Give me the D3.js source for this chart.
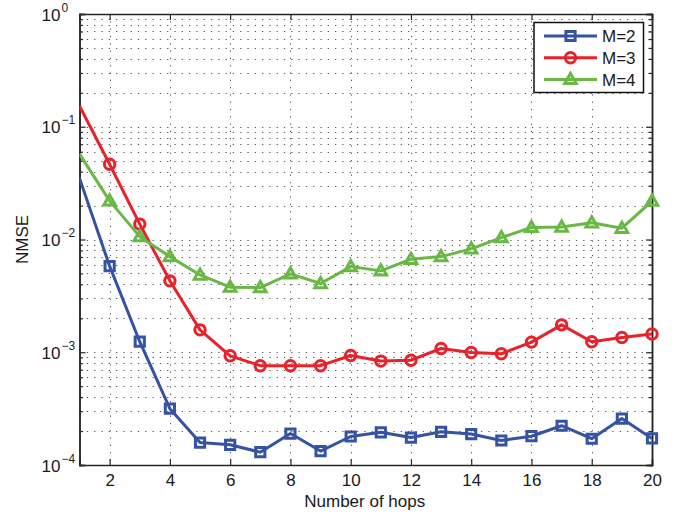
<!DOCTYPE html>
<html>
<head>
<meta charset="utf-8">
<script src="https://cdn.jsdelivr.net/npm/d3@7"></script>
<style>
  html, body { margin: 0; padding: 0; background: #fff; }
  svg { display: block; font-family: "Liberation Sans", Arial, sans-serif; }
</style>
</head>
<body>
<svg id="chart" width="688" height="515"></svg>
<script>
// Number of hops on the x axis
const hops = [1, 2, 3, 4, 5, 6, 7, 8, 9, 10, 11, 12, 13, 14, 15, 16, 17, 18, 19, 20];

// NMSE for each number of antennas M
const nmseM2 = [0.035, 0.0058, 0.00124, 3.16e-4, 1.58e-4, 1.51e-4, 1.30e-4, 1.90e-4, 1.33e-4, 1.79e-4,
                1.95e-4, 1.75e-4, 1.97e-4, 1.88e-4, 1.65e-4, 1.80e-4, 2.23e-4, 1.71e-4, 2.58e-4, 1.72e-4];
const nmseM3 = [0.153, 0.0465, 0.0137, 0.0043, 0.00158, 9.3e-4, 7.6e-4, 7.6e-4, 7.6e-4, 9.35e-4,
                8.35e-4, 8.5e-4, 1.08e-3, 9.95e-4, 9.7e-4, 1.23e-3, 1.75e-3, 1.24e-3, 1.35e-3, 1.45e-3];
const nmseM4 = [0.0574, 0.022, 0.0106, 0.00705, 0.00485, 0.00378, 0.00375, 0.00496, 0.00407, 0.00575,
                0.00527, 0.00669, 0.00705, 0.00826, 0.0104, 0.0128, 0.0129, 0.0141, 0.0126, 0.0219];

const seriesNames = ["M=2", "M=3", "M=4"];
const xTicks = [2, 4, 6, 8, 10, 12, 14, 16, 18, 20];
const yDecades = [-4, -3, -2, -1, 0];
const xLabel = "Number of hops";
const yLabel = "NMSE";
const firstMarkedHop = 2;

(function () {
const series = [
  { name: seriesNames[0], values: nmseM2, color: "#3552a3", marker: "square" },
  { name: seriesNames[1], values: nmseM3, color: "#e8222b", marker: "circle" },
  { name: seriesNames[2], values: nmseM4, color: "#69b845", marker: "triangle" }
];

const svg = d3.select("#chart");
const pLeft = 79.5, pRight = 652, pTop = 14, pBottom = 465;

const x = d3.scaleLinear().domain([1, 20]).range([pLeft, pRight]);
const y = d3.scaleLog().domain([1e-4, 1]).range([pBottom, pTop]);

const axisColor = "#262626";
const gridColor = "#5a5a5a";

// minor/major log positions
const yMinor = [];
for (let e = -4; e < 0; e++) {
  for (let m = 2; m <= 9; m++) yMinor.push(m * Math.pow(10, e));
}
const yMajor = yDecades.map(e => Math.pow(10, e));

// grid
const grid = svg.append("g").attr("stroke", gridColor).attr("stroke-width", 1)
  .attr("stroke-dasharray", "1.3,6").attr("fill", "none");
grid.selectAll("line.hy").data(yMinor.concat(yMajor.slice(1, -1))).enter().append("line")
  .attr("x1", pLeft).attr("x2", pRight)
  .attr("y1", d => Math.round(y(d)) + 0.5).attr("y2", d => Math.round(y(d)) + 0.5);
grid.selectAll("line.vx").data(xTicks.filter(t => t < 20)).enter().append("line")
  .attr("y1", pTop).attr("y2", pBottom)
  .attr("x1", d => Math.round(x(d)) + 0.5).attr("x2", d => Math.round(x(d)) + 0.5);

// axes with inward ticks on all four sides
const axB = svg.append("g").attr("transform", `translate(0,${pBottom})`)
  .call(d3.axisBottom(x).tickValues(xTicks).tickSize(-6).tickPadding(9).tickFormat(d3.format("d")));
const axT = svg.append("g").attr("transform", `translate(0,${pTop})`)
  .call(d3.axisTop(x).tickValues(xTicks).tickSize(-6).tickFormat(""));
const axL = svg.append("g").attr("transform", `translate(${pLeft},0)`)
  .call(d3.axisLeft(y).tickValues(yMajor).tickSize(-6).tickFormat(""));
const axLm = svg.append("g").attr("transform", `translate(${pLeft},0)`)
  .call(d3.axisLeft(y).tickValues(yMinor).tickSize(-3.5).tickFormat(""));
const axR = svg.append("g").attr("transform", `translate(${pRight},0)`)
  .call(d3.axisRight(y).tickValues(yMajor).tickSize(-6).tickFormat(""));
const axRm = svg.append("g").attr("transform", `translate(${pRight},0)`)
  .call(d3.axisRight(y).tickValues(yMinor).tickSize(-3.5).tickFormat(""));

[axB, axT, axL, axLm, axR, axRm].forEach(g => {
  g.selectAll(".domain").attr("stroke", axisColor).attr("stroke-width", 1.5);
  g.selectAll(".tick line").attr("stroke", axisColor).attr("stroke-width", 1.2);
});
axB.selectAll(".tick text").attr("fill", "#1a1a1a").style("font-size", "17px")
  .style("font-family", "'Liberation Sans', Arial, sans-serif");

// y tick labels as 10^e
const yLab = svg.append("g").attr("fill", "#1a1a1a");
yDecades.forEach(e => {
  const t = yLab.append("text")
    .attr("x", 41.5)
    .attr("y", y(Math.pow(10, e)) + 6.5)
    .style("font-size", "17px");
  t.append("tspan").text("10");
  t.append("tspan").attr("dy", -9).attr("dx", 1).style("font-size", "12px")
    .text(e === 0 ? "0" : "\u2212" + Math.abs(e));
});

// axis titles
svg.append("text").attr("x", (pLeft + pRight) / 2 - 1).attr("y", 506.5)
  .attr("text-anchor", "middle").attr("fill", "#1a1a1a").style("font-size", "17px").text(xLabel);
svg.append("text").attr("transform", `translate(28,${(pTop + pBottom) / 2}) rotate(-90)`)
  .attr("text-anchor", "middle").attr("fill", "#1a1a1a").style("font-size", "17px").text(yLabel);

// marker shapes
function markerPath(kind) {
  if (kind === "square") return "M-4.6,-4.6H4.6V4.6H-4.6Z";
  if (kind === "circle") return d3.symbol().type(d3.symbolCircle).size(Math.PI * 5.2 * 5.2)();
  return "M0,-6L5.8,4.2H-5.8Z";
}

svg.append("defs").append("clipPath").attr("id", "plotclip")
  .append("rect").attr("x", pLeft).attr("y", pTop).attr("width", pRight - pLeft).attr("height", pBottom - pTop);

const line = d3.line().x((d, i) => x(hops[i])).y(d => y(d));
const plot = svg.append("g").attr("clip-path", "url(#plotclip)");

series.forEach(s => {
  plot.append("path").datum(s.values)
    .attr("d", line).attr("fill", "none")
    .attr("stroke", s.color).attr("stroke-width", 3).attr("stroke-linejoin", "round");
});

const marks = svg.append("g");
series.forEach(s => {
  const pts = s.values.map((v, i) => ({ h: hops[i], v })).filter(p => p.h >= firstMarkedHop);
  marks.selectAll(null).data(pts).enter().append("path")
    .attr("d", markerPath(s.marker))
    .attr("transform", p => `translate(${x(p.h)},${y(p.v)})`)
    .attr("fill", "none").attr("stroke", s.color).attr("stroke-width", 3)
    .attr("stroke-linejoin", "miter");
});

// legend
const lg = svg.append("g");
lg.append("rect").attr("x", 534).attr("y", 22.5).attr("width", 109.5).attr("height", 70)
  .attr("fill", "#fff").attr("stroke", "#111").attr("stroke-width", 1.5);
series.forEach((s, i) => {
  const cy = 36 + i * 21.7;
  lg.append("line").attr("x1", 544).attr("x2", 597).attr("y1", cy).attr("y2", cy)
    .attr("stroke", s.color).attr("stroke-width", 3);
  lg.append("path").attr("d", markerPath(s.marker))
    .attr("transform", `translate(570.5,${cy})`)
    .attr("fill", "none").attr("stroke", s.color).attr("stroke-width", 3);
  lg.append("text").attr("x", 602).attr("y", cy + 6.2).attr("fill", "#1a1a1a")
    .style("font-size", "17px").text(s.name);
});
})();
</script>
</body>
</html>
